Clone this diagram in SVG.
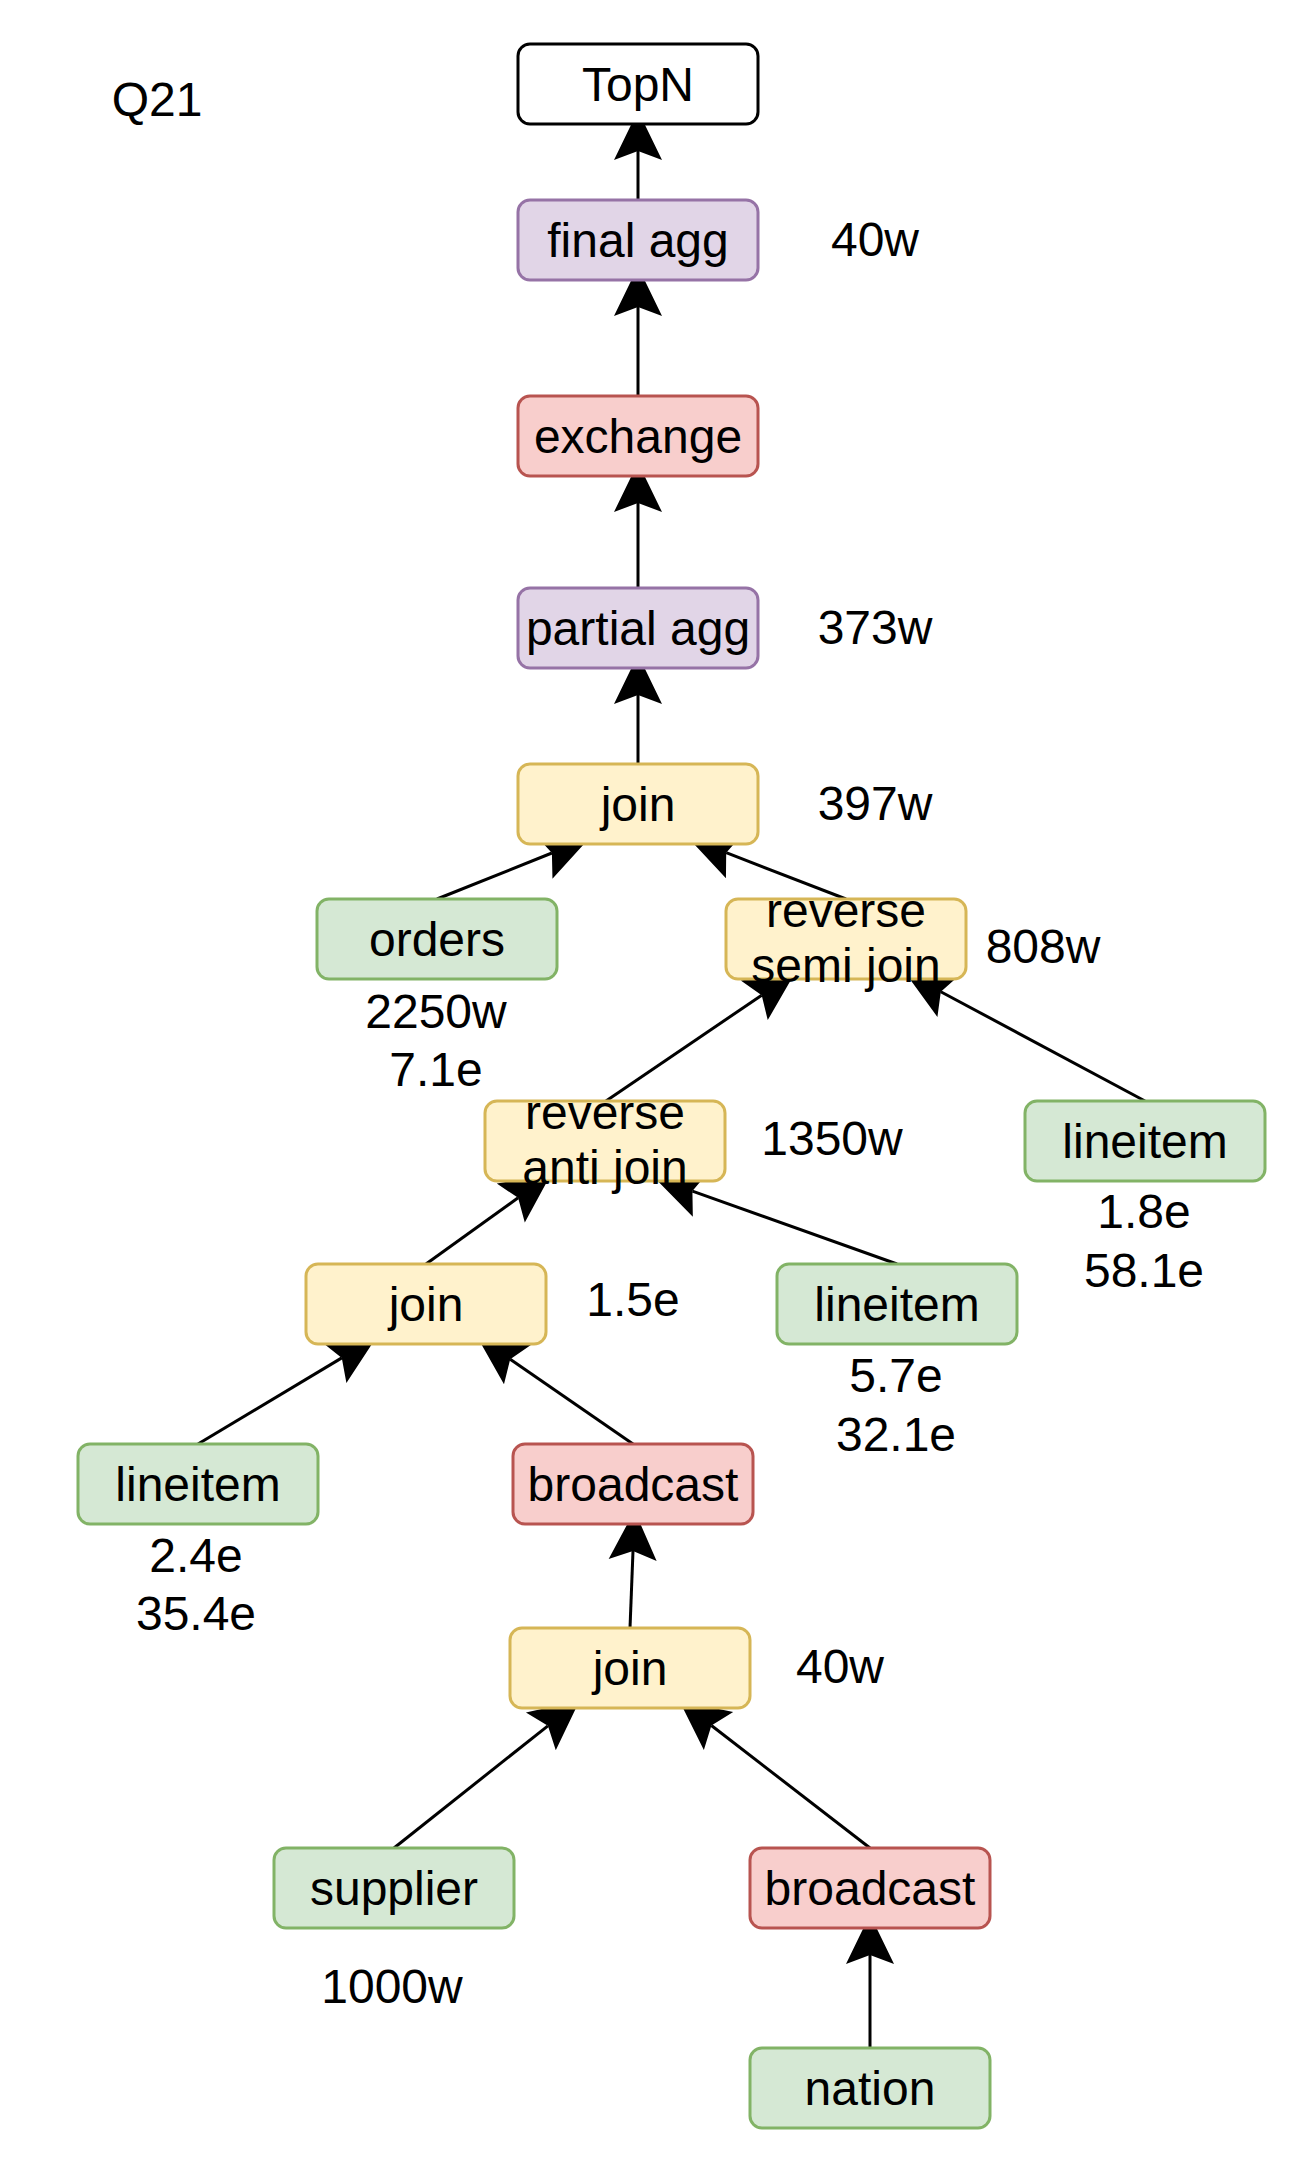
<svg xmlns="http://www.w3.org/2000/svg" width="1308" height="2172" viewBox="0 0 1308 2172">
<style>
text{font-family:"Liberation Sans",Arial,Helvetica,sans-serif;font-size:48px;fill:#000;text-anchor:middle}
.n rect{stroke-width:3}
.w rect{fill:#fff;stroke:#000}
.p rect{fill:#e1d5e7;stroke:#9673a6}
.r rect{fill:#f8cecc;stroke:#b85450}
.y rect{fill:#fff2cc;stroke:#d6b656}
.g rect{fill:#d5e8d4;stroke:#82b366}
.e{fill:none;stroke:#000;stroke-width:3;marker-end:url(#ah)}
</style>
<defs>
<marker id="ah" markerUnits="userSpaceOnUse" orient="auto" markerWidth="60" markerHeight="60" refX="0" refY="0" viewBox="-10 -20 40 40" overflow="visible">
<path d="M27,0 L-6,-16 L0,0 L-6,16 Z" fill="#000"/>
</marker>
</defs>
<rect width="1308" height="2172" fill="#fff"/>
<g id="connectors">
<path class="e" d="M638,200 L638,151"/>
<path class="e" d="M638,396 L638,307"/>
<path class="e" d="M638,588 L638,503"/>
<path class="e" d="M638,764 L638,695"/>
<path class="e" d="M437,899 L551.9,853"/>
<path class="e" d="M846,899 L726.2,852.7"/>
<path class="e" d="M606,1101 L761.7,995.2"/>
<path class="e" d="M1145,1101 L940.8,991.7"/>
<path class="e" d="M426,1264 L518.1,1197.8"/>
<path class="e" d="M897,1264 L692.4,1191.1"/>
<path class="e" d="M198,1444 L341.8,1357.9"/>
<path class="e" d="M633,1444 L510.2,1359.3"/>
<path class="e" d="M630,1628 L633,1551"/>
<path class="e" d="M394,1848 L547.9,1725.8"/>
<path class="e" d="M870,1848 L711.4,1725.5"/>
<path class="e" d="M870,2048 L870,1955"/>
</g>
<g id="topn" class="n w"><rect x="518" y="44" width="240" height="80" rx="12"/><text x="638" y="101">TopN</text></g>
<g id="final-agg" class="n p"><rect x="518" y="200" width="240" height="80" rx="12"/><text x="638" y="257">final agg</text></g>
<g id="exchange" class="n r"><rect x="518" y="396" width="240" height="80" rx="12"/><text x="638" y="453">exchange</text></g>
<g id="partial-agg" class="n p"><rect x="518" y="588" width="240" height="80" rx="12"/><text x="638" y="645">partial agg</text></g>
<g id="join1" class="n y"><rect x="518" y="764" width="240" height="80" rx="12"/><text x="638" y="821">join</text></g>
<g id="orders" class="n g"><rect x="317" y="899" width="240" height="80" rx="12"/><text x="437" y="956">orders</text></g>
<g id="reverse-semi-join" class="n y"><rect x="726" y="899" width="240" height="80" rx="12"/><text x="846" y="927">reverse</text><text x="846" y="982">semi join</text></g>
<g id="reverse-anti-join" class="n y"><rect x="485" y="1101" width="240" height="80" rx="12"/><text x="605" y="1129">reverse</text><text x="605" y="1184">anti join</text></g>
<g id="lineitem-r" class="n g"><rect x="1025" y="1101" width="240" height="80" rx="12"/><text x="1145" y="1158">lineitem</text></g>
<g id="join2" class="n y"><rect x="306" y="1264" width="240" height="80" rx="12"/><text x="426" y="1321">join</text></g>
<g id="lineitem-m" class="n g"><rect x="777" y="1264" width="240" height="80" rx="12"/><text x="897" y="1321">lineitem</text></g>
<g id="lineitem-l" class="n g"><rect x="78" y="1444" width="240" height="80" rx="12"/><text x="198" y="1501">lineitem</text></g>
<g id="broadcast1" class="n r"><rect x="513" y="1444" width="240" height="80" rx="12"/><text x="633" y="1501">broadcast</text></g>
<g id="join3" class="n y"><rect x="510" y="1628" width="240" height="80" rx="12"/><text x="630" y="1685">join</text></g>
<g id="supplier" class="n g"><rect x="274" y="1848" width="240" height="80" rx="12"/><text x="394" y="1905">supplier</text></g>
<g id="broadcast2" class="n r"><rect x="750" y="1848" width="240" height="80" rx="12"/><text x="870" y="1905">broadcast</text></g>
<g id="nation" class="n g"><rect x="750" y="2048" width="240" height="80" rx="12"/><text x="870" y="2105">nation</text></g>
<g id="labels">
<text x="157" y="116">Q21</text>
<text x="875" y="256">40w</text>
<text x="875" y="644">373w</text>
<text x="875" y="820">397w</text>
<text x="1043" y="963">808w</text>
<text x="436" y="1028">2250w</text>
<text x="436" y="1086">7.1e</text>
<text x="832" y="1155">1350w</text>
<text x="1144" y="1228">1.8e</text>
<text x="1144" y="1287">58.1e</text>
<text x="633" y="1316">1.5e</text>
<text x="896" y="1392">5.7e</text>
<text x="896" y="1451">32.1e</text>
<text x="196" y="1572">2.4e</text>
<text x="196" y="1630">35.4e</text>
<text x="840" y="1683">40w</text>
<text x="392" y="2003">1000w</text>
</g>
</svg>
